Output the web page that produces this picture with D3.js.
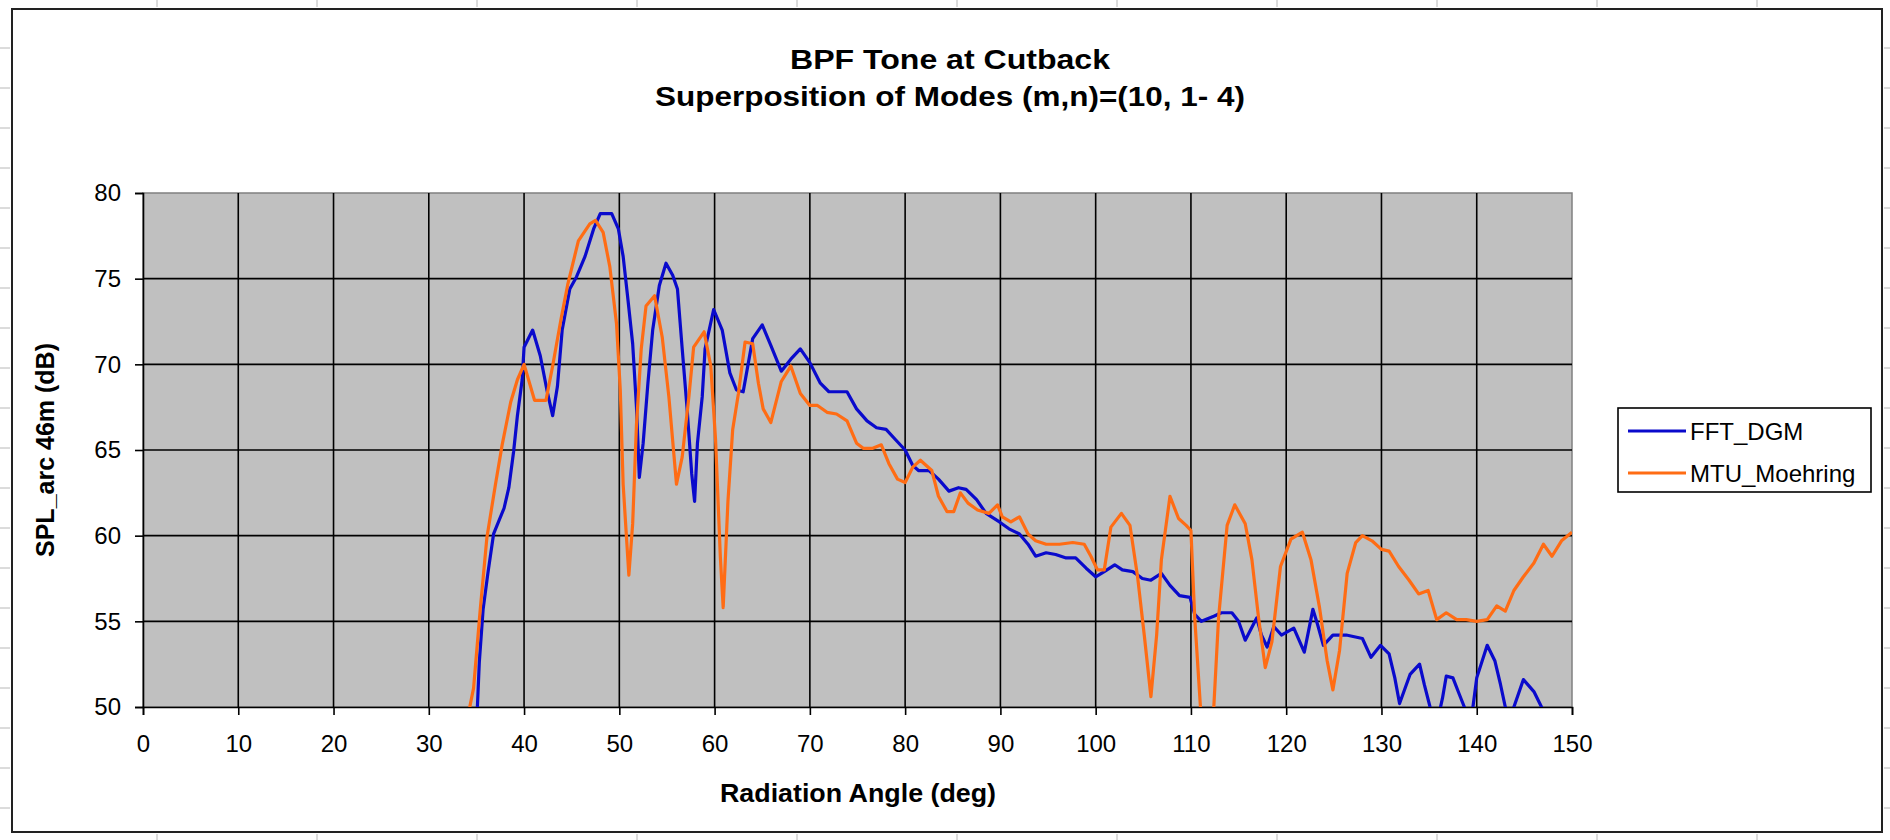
<!DOCTYPE html>
<html>
<head>
<meta charset="utf-8">
<script src="https://cdn.jsdelivr.net/npm/d3@7"></script>
<style>
  html, body { margin: 0; padding: 0; background: #ffffff; }
  svg { display: block; }
  text { font-family: "Liberation Sans", Arial, sans-serif; fill: #000; }
</style>
</head>
<body>
<svg id="chart" width="1890" height="840"></svg>
<script>
// ---------------- data ----------------
const titleLines = ["BPF Tone at Cutback", "Superposition of Modes (m,n)=(10, 1- 4)"];
const xLabel = "Radiation Angle (deg)";
const yLabel = "SPL_arc 46m (dB)";
const seriesNames = ["FFT_DGM", "MTU_Moehring"];
const xTicks = [0,10,20,30,40,50,60,70,80,90,100,110,120,130,140,150];
const yTicks = [50,55,60,65,70,75,80];

const fftAngles = [34.9,35.1,35.3,35.7,36.2,36.8,37.9,38.4,38.9,39.3,39.8,40.0,40.9,41.7,42.4,43.0,43.5,44.0,44.8,45.5,46.4,47.3,48.0,49.2,49.9,50.4,50.9,51.4,51.8,52.1,52.5,53.0,53.5,54.2,54.9,55.6,56.1,56.6,57.1,57.6,57.9,58.2,58.7,59.0,59.9,60.8,61.6,62.3,63.0,64.0,65.0,65.9,67.0,68.0,69.0,70.0,71.1,72.0,73.9,74.9,76.0,77.0,78.0,79.0,80.0,80.8,81.4,82.5,83.5,84.6,85.6,86.4,87.5,88.5,89.9,90.9,92.0,92.9,93.7,94.8,95.8,96.9,97.9,99.0,100.0,100.9,102.0,102.8,103.9,104.9,105.8,106.9,107.8,108.8,109.9,110.4,111.1,112.4,113.2,114.3,115.0,115.7,116.9,117.4,118.0,118.7,119.5,120.8,121.9,122.8,123.3,123.9,124.9,126.3,128.0,128.9,129.9,130.8,131.4,131.9,133.0,134.0,134.5,135.1,135.8,136.4,136.8,137.5,138.2,138.7,139.2,139.6,140.0,141.1,141.9,142.5,143.0,143.4,143.9,144.9,146.0,146.8,147.5,148.5,150.0];
const fftValues = [48.5,50.0,52.6,55.7,57.8,60.1,61.6,62.8,64.9,67.0,69.1,71.0,72.0,70.5,68.5,67.0,68.7,72.0,74.4,75.1,76.3,77.9,78.8,78.8,77.9,76.3,73.8,71.2,67.5,63.4,65.4,68.9,72.0,74.6,75.9,75.2,74.4,70.9,67.5,63.6,62.0,65.4,68.1,70.9,73.2,72.0,69.5,68.5,68.4,71.5,72.3,71.1,69.6,70.3,70.9,70.1,68.9,68.4,68.4,67.4,66.7,66.3,66.2,65.6,65.0,64.1,63.8,63.8,63.3,62.6,62.8,62.7,62.1,61.3,60.8,60.4,60.1,59.5,58.8,59.0,58.9,58.7,58.7,58.1,57.6,57.9,58.3,58.0,57.9,57.5,57.4,57.8,57.1,56.5,56.4,55.4,55.0,55.3,55.5,55.5,55.0,53.9,55.2,54.2,53.5,54.7,54.2,54.6,53.2,55.7,54.8,53.6,54.2,54.2,54.0,52.9,53.6,53.1,51.7,50.2,51.9,52.5,51.3,50.0,49.0,50.5,51.8,51.7,50.7,50.0,49.3,50.0,51.7,53.6,52.7,51.3,50.0,49.5,50.0,51.6,50.9,50.0,49.0,48.5,48.2];

const mtuAngles = [34.0,34.3,34.7,35.4,36.1,37.0,37.7,38.6,39.3,40.0,41.1,42.3,43.0,43.9,44.6,45.7,46.9,47.5,48.3,49.0,49.7,50.1,50.4,51.0,51.4,51.8,52.3,52.8,53.7,54.5,55.2,56.0,56.6,57.3,57.8,58.9,59.6,60.1,60.6,60.9,61.4,61.9,62.5,63.2,64.0,64.6,65.1,65.9,67.0,68.0,69.0,70.0,70.8,71.8,72.8,73.9,74.9,75.6,76.6,77.5,78.3,79.2,80.0,80.8,81.6,82.8,83.5,84.4,85.1,85.8,86.6,87.6,88.8,89.7,90.2,91.1,92.0,92.9,93.7,94.8,96.2,97.6,98.8,99.5,100.2,100.9,101.6,102.7,103.6,104.4,105.1,105.8,106.4,106.9,107.8,108.7,109.5,110.0,110.4,111.0,111.6,112.4,112.9,113.8,114.6,115.7,116.4,117.1,117.8,118.5,119.4,120.5,121.7,122.6,123.5,124.3,124.9,125.6,126.4,127.3,128.0,129.0,130.0,130.8,131.8,132.9,133.9,134.9,135.8,136.8,137.9,138.9,140.0,141.1,142.1,143.0,143.9,144.9,146.0,147.0,147.9,148.9,150.0];
const mtuValues = [49.0,50.0,51.1,55.7,59.9,63.0,65.3,67.8,69.1,70.0,67.9,67.9,69.9,72.7,74.7,77.2,78.2,78.4,77.7,75.7,72.4,68.5,63.0,57.7,60.7,66.5,70.9,73.4,74.0,71.6,68.1,63.0,64.6,68.1,71.0,71.9,69.9,65.6,58.8,55.8,62.0,66.2,68.3,71.3,71.2,68.9,67.4,66.6,69.0,69.9,68.3,67.6,67.6,67.2,67.1,66.7,65.4,65.1,65.1,65.3,64.2,63.3,63.1,64.0,64.4,63.8,62.3,61.4,61.4,62.5,61.9,61.5,61.3,61.8,61.1,60.8,61.1,60.1,59.7,59.5,59.5,59.6,59.5,58.8,58.0,58.0,60.5,61.3,60.6,57.6,54.2,50.6,54.2,58.6,62.3,61.0,60.6,60.3,55.2,50.0,47.5,50.0,55.2,60.6,61.8,60.7,58.6,55.2,52.3,53.8,58.2,59.8,60.2,58.6,55.8,52.7,51.0,53.3,57.8,59.6,60.0,59.7,59.2,59.1,58.2,57.4,56.6,56.8,55.1,55.5,55.1,55.1,55.0,55.1,55.9,55.6,56.8,57.6,58.4,59.5,58.8,59.7,60.2];

const seriesColors = ["#0a0acc", "#ff6c14"];

// ---------------- layout ----------------
const svg = d3.select("#chart");
const W = 1890, H = 840;
const plot = { left: 143, right: 1572, top: 193, bottom: 707 };

const x = d3.scaleLinear().domain([0, 150]).range([plot.left, plot.right]);
const y = d3.scaleLinear().domain([50, 80]).range([plot.bottom, plot.top]);

// faint sheet ticks outside the chart border
const sheet = svg.append("g").attr("stroke", "#b8b8b8").attr("stroke-width", 1);
d3.range(157, W, 160).forEach(px => {
  sheet.append("line").attr("x1", px).attr("x2", px).attr("y1", 0).attr("y2", 7);
  sheet.append("line").attr("x1", px).attr("x2", px).attr("y1", 834).attr("y2", 840);
});
d3.range(48, H, 40).forEach(py => {
  sheet.append("line").attr("x1", 0).attr("x2", 10).attr("y1", py).attr("y2", py);
  sheet.append("line").attr("x1", 1884).attr("x2", 1890).attr("y1", py).attr("y2", py);
});

// chart area border
svg.append("rect")
  .attr("x", 12).attr("y", 9).attr("width", 1870).attr("height", 823)
  .attr("fill", "#ffffff").attr("stroke", "#222").attr("stroke-width", 2);

// plot area background
svg.append("rect")
  .attr("x", plot.left).attr("y", plot.top)
  .attr("width", plot.right - plot.left).attr("height", plot.bottom - plot.top)
  .attr("fill", "#c0c0c0").attr("stroke", "#808080").attr("stroke-width", 1.5);

// gridlines
const grid = svg.append("g").attr("stroke", "#000").attr("stroke-width", 1.6);
xTicks.filter(t => t > 0 && t < 150).forEach(t => {
  grid.append("line").attr("x1", x(t)).attr("x2", x(t)).attr("y1", plot.top).attr("y2", plot.bottom);
});
yTicks.filter(t => t > 50 && t < 80).forEach(t => {
  grid.append("line").attr("x1", plot.left).attr("x2", plot.right).attr("y1", y(t)).attr("y2", y(t));
});

// axes
const xAxis = d3.axisBottom(x).tickValues(xTicks).tickSize(8).tickPadding(20).tickFormat(d3.format("d"));
const yAxis = d3.axisLeft(y).tickValues(yTicks).tickSize(8).tickPadding(14).tickFormat(d3.format("d"));

const gx = svg.append("g").attr("transform", `translate(0,${plot.bottom})`).call(xAxis);
const gy = svg.append("g").attr("transform", `translate(${plot.left},0)`).call(yAxis);
[gx, gy].forEach(g => {
  g.select(".domain").attr("stroke", "#000").attr("stroke-width", 1.6);
  g.selectAll(".tick line").attr("stroke", "#000").attr("stroke-width", 1.6);
  g.selectAll(".tick text")
    .attr("font-family", "'Liberation Sans', Arial, sans-serif")
    .attr("font-size", 24).attr("fill", "#000");
});
gx.selectAll(".tick text").attr("dy", "0.71em");

// lines
svg.append("clipPath").attr("id", "clip")
  .append("rect").attr("x", plot.left).attr("y", plot.top)
  .attr("width", plot.right - plot.left).attr("height", plot.bottom - plot.top);

const line = d3.line().x(d => x(d[0])).y(d => y(d[1]));
const series = [
  d3.zip(fftAngles, fftValues),
  d3.zip(mtuAngles, mtuValues)
];
const lg = svg.append("g").attr("clip-path", "url(#clip)");
series.forEach((s, i) => {
  lg.append("path").datum(s)
    .attr("d", line)
    .attr("fill", "none")
    .attr("stroke", seriesColors[i])
    .attr("stroke-width", 3.2)
    .attr("stroke-linejoin", "round");
});

// titles
svg.append("text").attr("x", 950).attr("y", 69).attr("text-anchor", "middle")
  .attr("font-size", 27).attr("font-weight", "bold")
  .attr("textLength", 320).attr("lengthAdjust", "spacingAndGlyphs").text(titleLines[0]);
svg.append("text").attr("x", 950).attr("y", 106).attr("text-anchor", "middle")
  .attr("font-size", 27).attr("font-weight", "bold")
  .attr("textLength", 590).attr("lengthAdjust", "spacingAndGlyphs").text(titleLines[1]);

svg.append("text").attr("x", 858).attr("y", 802).attr("text-anchor", "middle")
  .attr("font-size", 25).attr("font-weight", "bold")
  .attr("textLength", 276).attr("lengthAdjust", "spacingAndGlyphs").text(xLabel);

svg.append("text")
  .attr("transform", `translate(54,${(plot.top + plot.bottom) / 2}) rotate(-90)`)
  .attr("text-anchor", "middle")
  .attr("font-size", 25).attr("font-weight", "bold").text(yLabel);

// legend
const leg = svg.append("g");
leg.append("rect").attr("x", 1618).attr("y", 408).attr("width", 253).attr("height", 84)
  .attr("fill", "#fff").attr("stroke", "#000").attr("stroke-width", 1.6);
seriesNames.forEach((name, i) => {
  const ly = 431 + i * 42;
  leg.append("line").attr("x1", 1628).attr("x2", 1686).attr("y1", ly).attr("y2", ly)
    .attr("stroke", seriesColors[i]).attr("stroke-width", 3.2);
  leg.append("text").attr("x", 1690).attr("y", ly).attr("dy", "0.36em")
    .attr("font-size", 24).text(name);
});
</script>
</body>
</html>
